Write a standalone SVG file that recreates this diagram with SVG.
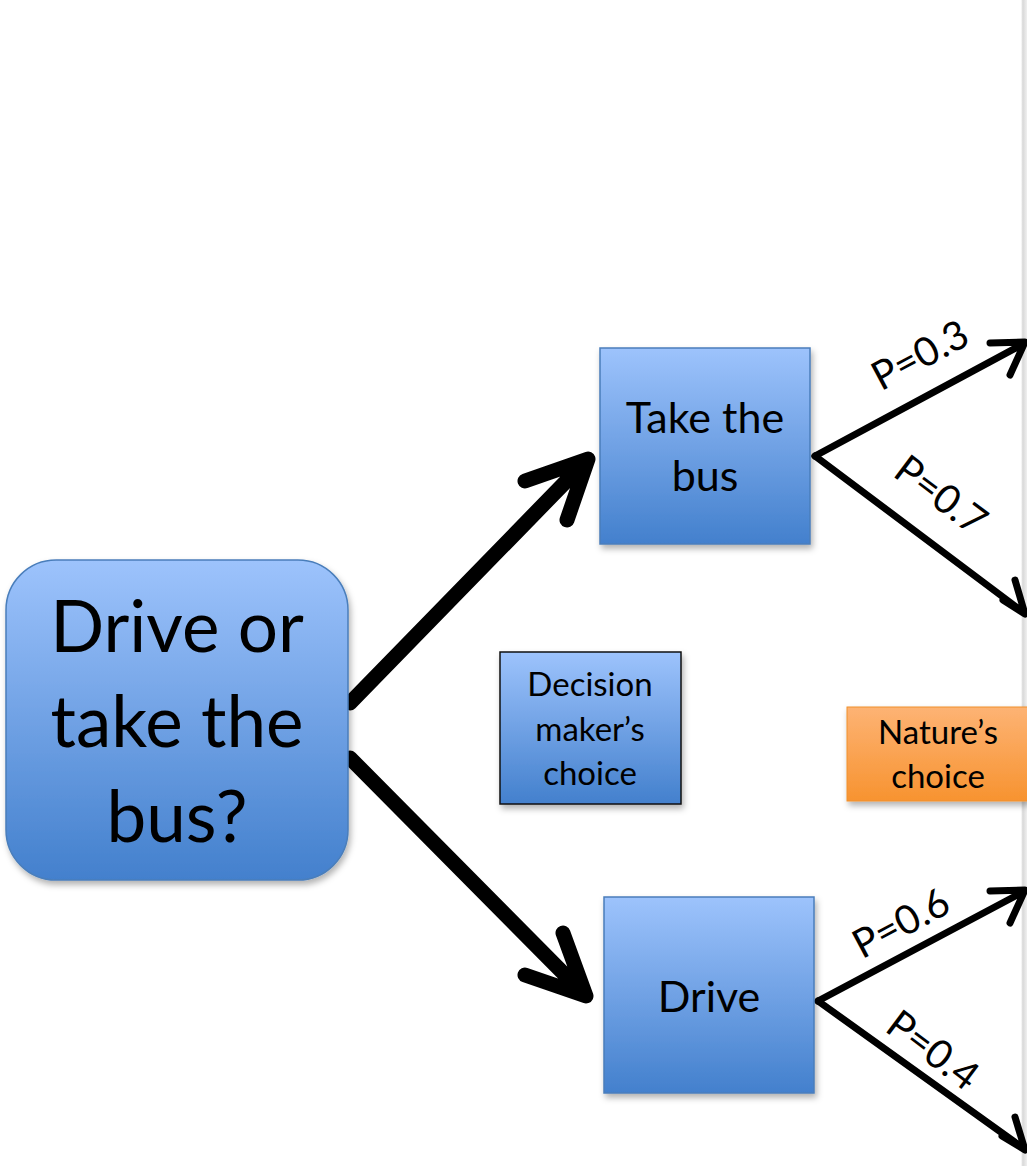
<svg xmlns="http://www.w3.org/2000/svg" width="1027" height="1166" viewBox="0 0 1027 1166">
<style>
.blue{fill:url(#gb);stroke:#4a7ebb;stroke-width:1.5}
.dark{fill:url(#gb);stroke:#111;stroke-width:1.5}
.orange{fill:url(#go);stroke:#f0902c;stroke-width:1}
text{font-family:Lato,"Open Sans","Liberation Sans",sans-serif;fill:#000;text-anchor:middle}
.big{stroke:#000;stroke-width:15;fill:none;stroke-linecap:round;stroke-linejoin:round}
.thin{stroke:#000;stroke-width:7;fill:none;stroke-linecap:round;stroke-linejoin:round}
</style>
<defs>
<linearGradient id="gb" x1="0" y1="0" x2="0" y2="1"><stop offset="0" stop-color="#9dc3fc"/><stop offset="1" stop-color="#4380cd"/></linearGradient>
<linearGradient id="go" x1="0" y1="0" x2="0" y2="1"><stop offset="0" stop-color="#fdb374"/><stop offset="1" stop-color="#f79330"/></linearGradient>
<linearGradient id="gs" x1="0" y1="0" x2="1" y2="0"><stop offset="0" stop-color="#ffffff"/><stop offset="0.3" stop-color="#d8d8d8"/><stop offset="1" stop-color="#f0f0f0"/></linearGradient>
<filter id="sh" x="-10%" y="-10%" width="130%" height="130%"><feDropShadow dx="2" dy="4" stdDeviation="3" flood-color="#000" flood-opacity="0.3"/></filter>
</defs>
<rect width="1027" height="1166" fill="#fff"/>
<rect x="1021" y="0" width="6" height="1166" fill="url(#gs)"/>
<g id="connectors">
<path class="big" d="M350 703 L583 464 M525 481 L588 459 L567 520"/>
<path class="big" d="M350 758 L581 991 M563 933 L586 996 L525 975"/>
<path class="thin" d="M815 456 L1023 344 M990 343 L1025 342 L1010 375"/>
<path class="thin" d="M815 456 L1023 612 M1003 600 L1025 614 L1015 580"/>
<path class="thin" d="M818 1001 L1023 892 M990 891 L1025 890 L1010 923"/>
<path class="thin" d="M818 1001 L1023 1148 M1002 1136 L1025 1150 L1015 1117"/>
</g>
<g id="labels">
<text x="920" y="369" font-size="40" transform="rotate(-28 920 355)">P=0.3</text>
<text x="941" y="509" font-size="40" transform="rotate(37 941 495)">P=0.7</text>
<text x="901" y="937" font-size="40" transform="rotate(-28 901 923)">P=0.6</text>
<text x="933" y="1064" font-size="40" transform="rotate(37 933 1050)">P=0.4</text>
</g>
<g id="root">
<rect class="blue" x="6" y="560" width="342" height="320" rx="50" filter="url(#sh)"/>
<text x="177" y="652" font-size="71">Drive or</text>
<text x="177" y="747" font-size="71">take the</text>
<text x="177" y="842" font-size="71">bus?</text>
</g>
<g id="bus">
<rect class="blue" x="600" y="348" width="210" height="196" filter="url(#sh)"/>
<text x="705" y="433" font-size="43">Take the</text>
<text x="705" y="491" font-size="43">bus</text>
</g>
<g id="drive">
<rect class="blue" x="604" y="897" width="210" height="196" filter="url(#sh)"/>
<text x="709" y="1012" font-size="43">Drive</text>
</g>
<g id="legend-decision">
<rect class="dark" x="500" y="652" width="181" height="152" filter="url(#sh)"/>
<text x="590" y="696" font-size="33">Decision</text>
<text x="590" y="741" font-size="33">maker’s</text>
<text x="590" y="785" font-size="33">choice</text>
</g>
<g id="legend-nature">
<rect class="orange" x="847" y="707" width="182" height="94" filter="url(#sh)"/>
<text x="938" y="744" font-size="33">Nature’s</text>
<text x="938" y="788" font-size="33">choice</text>
</g>
</svg>
